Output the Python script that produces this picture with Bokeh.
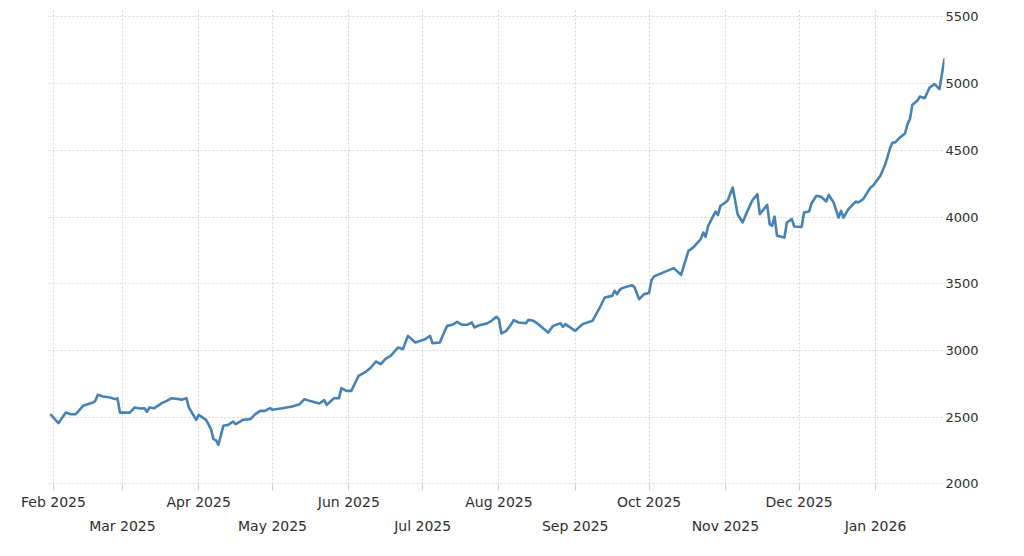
import pandas as pd
from bokeh.plotting import figure
from bokeh.models import Range1d, FixedTicker, DatetimeAxis, ColumnDataSource
from bokeh.embed import file_html
from bokeh.resources import INLINE

dates = [
    "2025-01-31", "2025-02-03", "2025-02-06", "2025-02-08", "2025-02-10", "2025-02-11",
    "2025-02-13", "2025-02-17", "2025-02-18", "2025-02-19", "2025-02-21", "2025-02-24",
    "2025-02-26", "2025-02-27", "2025-02-28", "2025-03-04", "2025-03-06", "2025-03-08",
    "2025-03-10", "2025-03-11", "2025-03-12", "2025-03-14", "2025-03-17", "2025-03-19",
    "2025-03-21", "2025-03-24", "2025-03-25", "2025-03-27", "2025-03-28", "2025-03-31",
    "2025-04-01", "2025-04-04", "2025-04-06", "2025-04-07", "2025-04-08", "2025-04-09",
    "2025-04-11", "2025-04-13", "2025-04-15", "2025-04-16", "2025-04-19", "2025-04-22",
    "2025-04-24", "2025-04-26", "2025-04-28", "2025-04-30", "2025-05-01", "2025-05-05",
    "2025-05-09", "2025-05-12", "2025-05-14", "2025-05-16", "2025-05-20", "2025-05-22",
    "2025-05-23", "2025-05-26", "2025-05-28", "2025-05-29", "2025-05-31", "2025-06-02",
    "2025-06-05", "2025-06-08", "2025-06-10", "2025-06-12", "2025-06-14", "2025-06-16",
    "2025-06-18", "2025-06-21", "2025-06-23", "2025-06-25", "2025-06-28", "2025-07-02",
    "2025-07-03", "2025-07-04", "2025-07-05", "2025-07-08", "2025-07-10", "2025-07-11",
    "2025-07-13", "2025-07-15", "2025-07-17", "2025-07-19", "2025-07-21", "2025-07-22",
    "2025-07-24", "2025-07-27", "2025-07-29", "2025-07-31", "2025-08-01", "2025-08-02",
    "2025-08-04", "2025-08-06", "2025-08-07", "2025-08-09", "2025-08-12", "2025-08-13",
    "2025-08-15", "2025-08-17", "2025-08-21", "2025-08-23", "2025-08-26", "2025-08-27",
    "2025-08-28", "2025-09-01", "2025-09-04", "2025-09-08", "2025-09-11", "2025-09-13",
    "2025-09-16", "2025-09-17", "2025-09-18", "2025-09-19", "2025-09-20", "2025-09-24",
    "2025-09-25", "2025-09-27", "2025-09-29", "2025-10-01", "2025-10-02", "2025-10-03",
    "2025-10-11", "2025-10-14", "2025-10-17", "2025-10-19", "2025-10-22", "2025-10-23",
    "2025-10-24", "2025-10-25", "2025-10-28", "2025-10-29", "2025-10-30", "2025-11-01",
    "2025-11-02", "2025-11-04", "2025-11-06", "2025-11-08", "2025-11-10", "2025-11-12",
    "2025-11-14", "2025-11-15", "2025-11-18", "2025-11-19", "2025-11-20", "2025-11-21",
    "2025-11-22", "2025-11-25", "2025-11-26", "2025-11-28", "2025-11-29", "2025-12-02",
    "2025-12-03", "2025-12-05", "2025-12-06", "2025-12-08", "2025-12-10", "2025-12-12",
    "2025-12-13", "2025-12-15", "2025-12-17", "2025-12-18", "2025-12-19", "2025-12-21",
    "2025-12-24", "2025-12-25", "2025-12-27", "2025-12-30", "2025-12-31", "2026-01-03",
    "2026-01-05", "2026-01-07", "2026-01-08", "2026-01-09", "2026-01-11", "2026-01-13",
    "2026-01-14", "2026-01-15", "2026-01-16", "2026-01-18", "2026-01-19", "2026-01-21",
    "2026-01-23", "2026-01-25", "2026-01-27", "2026-01-29",
]

prices = [
    2517, 2455, 2534, 2522, 2522, 2542,
    2585, 2609, 2622, 2667, 2654, 2647,
    2635, 2640, 2534, 2534, 2572, 2565,
    2567, 2540, 2572, 2567, 2605, 2622,
    2642, 2635, 2630, 2642, 2572, 2480,
    2517, 2480, 2410, 2335, 2327, 2292,
    2435, 2442, 2467, 2447, 2480, 2485,
    2522, 2547, 2547, 2567, 2555, 2567,
    2580, 2597, 2635, 2622, 2602, 2627,
    2592, 2642, 2642, 2717, 2697, 2697,
    2810, 2842, 2872, 2917, 2897, 2939,
    2959, 3022, 3010, 3109, 3059, 3084,
    3097, 3109, 3055, 3059, 3147, 3184,
    3192, 3214, 3192, 3192, 3209, 3172,
    3189, 3201, 3222, 3252, 3234, 3127,
    3147, 3197, 3227, 3209, 3204, 3229,
    3222, 3197, 3134, 3184, 3204, 3177,
    3197, 3147, 3197, 3222, 3322, 3397,
    3409, 3447, 3422, 3452, 3467, 3489,
    3477, 3384, 3422, 3430, 3527, 3555,
    3617, 3567, 3746, 3772, 3834, 3884,
    3852, 3934, 4041, 4016, 4084, 4109,
    4126, 4221, 4021, 3959, 4046, 4126,
    4171, 4021, 4091, 3947, 3934, 4004,
    3859, 3847, 3959, 3984, 3929, 3926,
    4034, 4041, 4101, 4159, 4151, 4116,
    4166, 4109, 3996, 4046, 3996, 4059,
    4116, 4109, 4134, 4221, 4234, 4309,
    4396, 4521, 4559, 4559, 4597, 4626,
    4696, 4734, 4841, 4871, 4903, 4891,
    4971, 4996, 4959, 5183,
]

y_ticks = [2000, 2500, 3000, 3500, 4000, 4500, 5000, 5500]
month_starts = [
    "2025-02-01", "2025-03-01", "2025-04-01", "2025-05-01", "2025-06-01", "2025-07-01",
    "2025-08-01", "2025-09-01", "2025-10-01", "2025-11-01", "2025-12-01", "2026-01-01",
]
month_labels = [
    "Feb 2025", "Mar 2025", "Apr 2025", "May 2025", "Jun 2025", "Jul 2025",
    "Aug 2025", "Sep 2025", "Oct 2025", "Nov 2025", "Dec 2025", "Jan 2026",
]


def to_ms(s):
    return float(pd.Timestamp(s).value // 10**6)


DAY = 86400000.0
tick_ms = [to_ms(s) for s in month_starts]
x0 = tick_ms[0] - 2.03 * DAY
x1 = tick_ms[0] + 362.05 * DAY

src = ColumnDataSource(data=dict(date=pd.to_datetime(dates), price=prices))

FONT = "DejaVu Sans"
TXT = "#2e2e2e"

p = figure(
    width=1018, height=548,
    x_axis_type="datetime", y_axis_location="right",
    x_range=Range1d(x0, x1), y_range=Range1d(1995, 5563),
    output_backend="svg", toolbar_location=None,
    min_border_left=48, min_border_right=74, min_border_top=8, min_border_bottom=64,
)
p.outline_line_color = None
p.background_fill_color = "white"
p.border_fill_color = "white"

# grids
p.xgrid.ticker = FixedTicker(ticks=tick_ms)
p.ygrid.ticker = FixedTicker(ticks=y_ticks)
for g in (p.xgrid[0], p.ygrid[0]):
    g.grid_line_color = "#d6d6d6"
    g.grid_line_dash = "2 2"
    g.grid_line_width = 1

# right y axis
ya = p.yaxis[0]
ya.ticker = FixedTicker(ticks=y_ticks)
ya.axis_line_color = None
ya.major_tick_line_color = None
ya.minor_tick_line_color = None
ya.major_tick_out = 0
ya.major_tick_in = 0
ya.major_label_standoff = 1
ya.major_label_text_font = FONT
ya.major_label_text_font_size = "13px"
ya.major_label_text_color = TXT

# first row of month labels (with tick marks)
xa = p.xaxis[0]
xa.ticker = FixedTicker(ticks=tick_ms)
xa.major_label_overrides = {t: (lab if i % 2 == 0 else "") for i, (t, lab) in enumerate(zip(tick_ms, month_labels))}
xa.axis_line_color = None
xa.major_tick_line_color = "#cccccc"
xa.major_tick_out = 6
xa.major_tick_in = 0
xa.minor_tick_line_color = None
xa.major_label_standoff = 3
xa.major_label_text_font = FONT
xa.major_label_text_font_size = "14px"
xa.major_label_text_color = TXT

# second row of month labels
odd_ticks = [t for i, t in enumerate(tick_ms) if i % 2 == 1]
xb = DatetimeAxis(ticker=FixedTicker(ticks=odd_ticks))
xb.major_label_overrides = {t: lab for i, (t, lab) in enumerate(zip(tick_ms, month_labels)) if i % 2 == 1}
xb.axis_line_color = None
xb.major_tick_line_color = None
xb.minor_tick_line_color = None
xb.major_tick_out = 0
xb.major_tick_in = 0
xb.major_label_standoff = 5
xb.major_label_text_font = FONT
xb.major_label_text_font_size = "14px"
xb.major_label_text_color = TXT
p.add_layout(xb, "below")

p.line(x="date", y="price", source=src, line_color="#4682b4", line_width=2.6,
       line_join="round", line_cap="round")

open("out.html", "w").write(file_html(p, INLINE))
